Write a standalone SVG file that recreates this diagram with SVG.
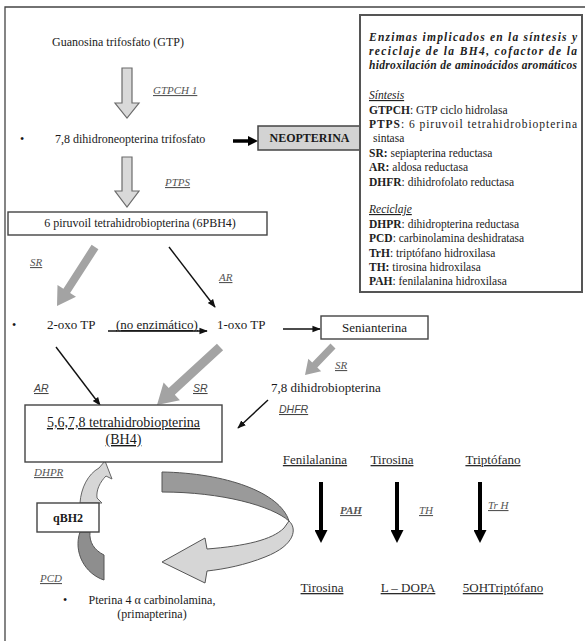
<svg xmlns="http://www.w3.org/2000/svg" width="585" height="641" viewBox="0 0 585 641">
<style>
.t{font-family:"Liberation Serif","Times New Roman",serif;font-size:12px;fill:#1a1a1a}
.m{font-size:13px}
.big{font-family:"Liberation Serif","Times New Roman",serif;font-size:14px;fill:#1a1a1a;text-decoration:underline}
.b{font-weight:bold}
.lab{font-family:"Liberation Serif","Times New Roman",serif;font-style:italic;font-size:11px;fill:#555;text-decoration:underline}
.labs{font-family:"Liberation Sans",Arial,sans-serif;font-style:italic;font-size:10.5px;fill:#444;text-decoration:underline}
.aa{font-family:"Liberation Serif","Times New Roman",serif;font-size:13px;fill:#2a2a2a;text-decoration:underline}
.lg{font-family:"Liberation Serif","Times New Roman",serif;font-size:11.5px;fill:#222}
.box{fill:#fff;stroke:#444;stroke-width:1.4}
.hollow{fill:#d9d9d9;stroke:#6b6b6b;stroke-width:1.2}
.garr{fill:#a3a3a3}
.thin{stroke:#111;stroke-width:1.4;fill:none}
.thick{stroke:#000;stroke-width:4;fill:none}
</style>
<defs>
<marker id="ah" viewBox="0 0 10 10" refX="9" refY="5" markerWidth="6" markerHeight="6" orient="auto"><path d="M0,1 L10,5 L0,9 z" fill="#111"/></marker>
<marker id="bh" viewBox="0 0 10 10" refX="0" refY="5" markerUnits="userSpaceOnUse" markerWidth="13" markerHeight="13" orient="auto"><path d="M0,0 L10,5 L0,10 z" fill="#000"/></marker>
<marker id="nh" viewBox="0 0 10 10" refX="0" refY="5" markerUnits="userSpaceOnUse" markerWidth="10" markerHeight="11" orient="auto"><path d="M0,0 L10,5 L0,10 z" fill="#000"/></marker>
</defs>
<rect width="585" height="641" fill="#fff"/>
<path d="M5,641 V7 H585" fill="none" stroke="#444" stroke-width="1.3"/>

<g id="connectors">
<polygon class="hollow" points="122,68 132,68 132,103 139,103 127,118 115,103 122,103"/>
<polygon class="hollow" points="122,157 132,157 132,191 139,191 127,207 115,191 122,191"/>
<text class="lab" x="153" y="94">GTPCH 1</text>
<text class="lab" x="165" y="186">PTPS</text>
<line x1="233" y1="141" x2="248" y2="141" stroke="#000" stroke-width="3.5" marker-end="url(#nh)"/>
<polygon class="garr" points="98.4,249.2 70.1,293.0 76.0,296.8 57,306 57.5,284.9 63.4,288.7 91.6,244.8"/>
<text class="lab" x="30" y="266">SR</text>
<line class="thin" x1="169" y1="247" x2="215" y2="307" marker-end="url(#ah)"/>
<text class="lab" x="219" y="281">AR</text>
<line class="thin" x1="108" y1="331" x2="207" y2="331" marker-end="url(#ah)"/>
<line class="thin" x1="283" y1="329" x2="320" y2="329" marker-end="url(#ah)"/>
<line class="thin" x1="56" y1="347" x2="100" y2="405" marker-end="url(#ah)"/>
<text class="labs" x="34" y="392">AR</text>
<polygon class="garr" points="223.1,350.3 174.8,394.8 179.9,400.3 157,405 163.6,382.6 168.7,388.1 216.9,343.7"/>
<text class="labs" x="193" y="392">SR</text>
<polygon class="garr" points="335.5,348.4 317.3,367.4 321.2,371.2 305,375 308.3,358.7 312.2,362.5 330.5,343.6"/>
<text class="lab" x="335" y="369">SR</text>
<line class="thin" x1="268" y1="400" x2="238" y2="428" marker-end="url(#ah)"/>
<text class="labs" x="279" y="413">DHFR</text>
<path d="M80,503 C81,488 88,474 99,468 L105,461 L112,479 L106,476 C100,482 96,490 97,498 L102,503 Z" fill="#d6d6d6" stroke="#666" stroke-width="1"/>
<path d="M80,532 C73,552 85,574 104,580 L104,555 C94,550 89,542 90,532 Z" fill="#8e8e8e" stroke="#555" stroke-width="1"/>
<text class="lab" x="34" y="476">DHPR</text>
<text class="lab" x="40" y="582">PCD</text>
<path d="M162,472 C225,473 280,492 289,521 C272,506 222,492 162,492 Z" fill="#9a9a9a" stroke="#555" stroke-width="1"/>
<path d="M289,521 C297,528 296,545 265,557 C245,565 225,569 207,571 L205,583 L162,562 L205,538 L207,549 C245,546 272,540 284,528 Z" fill="#d6d6d6" stroke="#555" stroke-width="1"/>
<line class="thick" x1="321" y1="482" x2="321" y2="530" marker-end="url(#bh)"/>
<line class="thick" x1="397" y1="482" x2="397" y2="530" marker-end="url(#bh)"/>
<line class="thick" x1="480" y1="482" x2="480" y2="530" marker-end="url(#bh)"/>
<text class="lab b" x="340" y="514" fill="#333">PAH</text>
<text class="lab" x="419" y="514">TH</text>
<text class="lab" x="488" y="509">Tr H</text>
</g>

<g id="gtp"><text class="t" x="118" y="46" text-anchor="middle">Guanosina trifosfato (GTP)</text></g>
<g id="dhnp"><text class="t" x="20" y="143">•</text><text class="t" x="55" y="143">7,8 dihidroneopterina trifosfato</text></g>
<g id="neopterina"><rect x="258" y="126" width="103" height="24" fill="#d3d3d3" stroke="#444" stroke-width="1.5"/><text class="t b" x="309.5" y="142" text-anchor="middle" font-size="11">NEOPTERINA</text></g>
<g id="pbh4"><rect class="box" x="8" y="212" width="259" height="23"/><text class="t" x="140" y="227" text-anchor="middle" font-size="11.5">6 piruvoil tetrahidrobiopterina (6PBH4)</text></g>
<g id="oxo2"><text class="t" x="12" y="329">•</text><text class="t m" x="47" y="329">2-oxo TP</text></g>
<g id="noenz"><text class="t m" x="116" y="329" text-decoration="underline">(no enzimático)</text></g>
<g id="oxo1"><text class="t m" x="217" y="329">1-oxo TP</text></g>
<g id="seni"><rect class="box" x="321" y="316" width="107" height="23"/><text class="t m" x="374.5" y="332" text-anchor="middle">Senianterina</text></g>
<g id="dhb"><text class="t m" x="271" y="392">7,8 dihidrobiopterina</text></g>
<g id="bh4"><rect class="box" x="25" y="405" width="197" height="57"/><text class="big" x="123.5" y="427" text-anchor="middle">5,6,7,8 tetrahidrobiopterina</text><text class="big" x="123.5" y="444" text-anchor="middle">(BH4)</text></g>
<g id="qbh2"><rect class="box" x="37" y="503" width="62" height="29"/><text class="t b" x="68" y="522" text-anchor="middle" font-size="12.5">qBH2</text></g>
<g id="pterina"><text class="t" x="63" y="604">•</text><text class="t" x="152" y="604" text-anchor="middle">Pterina 4 α carbinolamina,</text><text class="t" x="152" y="618" text-anchor="middle">(primapterina)</text></g>
<g id="fen"><text class="aa" x="315" y="464" text-anchor="middle">Fenilalanina</text></g>
<g id="tir"><text class="aa" x="392" y="464" text-anchor="middle">Tirosina</text></g>
<g id="trp"><text class="aa" x="493" y="464" text-anchor="middle">Triptófano</text></g>
<g id="tir2"><text class="aa" x="322" y="592" text-anchor="middle">Tirosina</text></g>
<g id="dopa"><text class="aa" x="408" y="592" text-anchor="middle">L – DOPA</text></g>
<g id="ohtrp"><text class="aa" x="503" y="592" text-anchor="middle">5OHTriptófano</text></g>

<g id="legend">
<rect x="360" y="15" width="222" height="277" fill="#fff" stroke="#555" stroke-width="2"/>
<text class="lg b" font-style="italic" x="369" y="41" textLength="208" lengthAdjust="spacing">Enzimas implicados en la síntesis y</text>
<text class="lg b" font-style="italic" x="369" y="55" textLength="208" lengthAdjust="spacing">reciclaje de la BH4, cofactor de la</text>
<text class="lg b" font-style="italic" x="369" y="69" textLength="208" lengthAdjust="spacing">hidroxilación de aminoácidos aromáticos</text>
<text class="lg" x="369" y="99" font-style="italic" text-decoration="underline">Síntesis</text>
<text class="lg" x="369" y="114"><tspan class="b">GTPCH</tspan>: GTP ciclo hidrolasa</text>
<text class="lg" x="369" y="128" textLength="208" lengthAdjust="spacing"><tspan class="b">PTPS</tspan>: 6 piruvoil tetrahidrobiopterina</text>
<text class="lg" x="373" y="142">sintasa</text>
<text class="lg" x="369" y="157"><tspan class="b">SR:</tspan> sepiapterina reductasa</text>
<text class="lg" x="369" y="171"><tspan class="b">AR:</tspan> aldosa reductasa</text>
<text class="lg" x="369" y="186"><tspan class="b">DHFR</tspan>: dihidrofolato reductasa</text>
<text class="lg" x="369" y="213" font-style="italic" text-decoration="underline">Reciclaje</text>
<text class="lg" x="369" y="228"><tspan class="b">DHPR</tspan>: dihidropterina reductasa</text>
<text class="lg" x="369" y="242"><tspan class="b">PCD</tspan>: carbinolamina deshidratasa</text>
<text class="lg" x="369" y="257"><tspan class="b">TrH</tspan>: triptófano hidroxilasa</text>
<text class="lg" x="369" y="271"><tspan class="b">TH:</tspan> tirosina hidroxilasa</text>
<text class="lg" x="369" y="285"><tspan class="b">PAH</tspan>: fenilalanina hidroxilasa</text>
</g>
</svg>
